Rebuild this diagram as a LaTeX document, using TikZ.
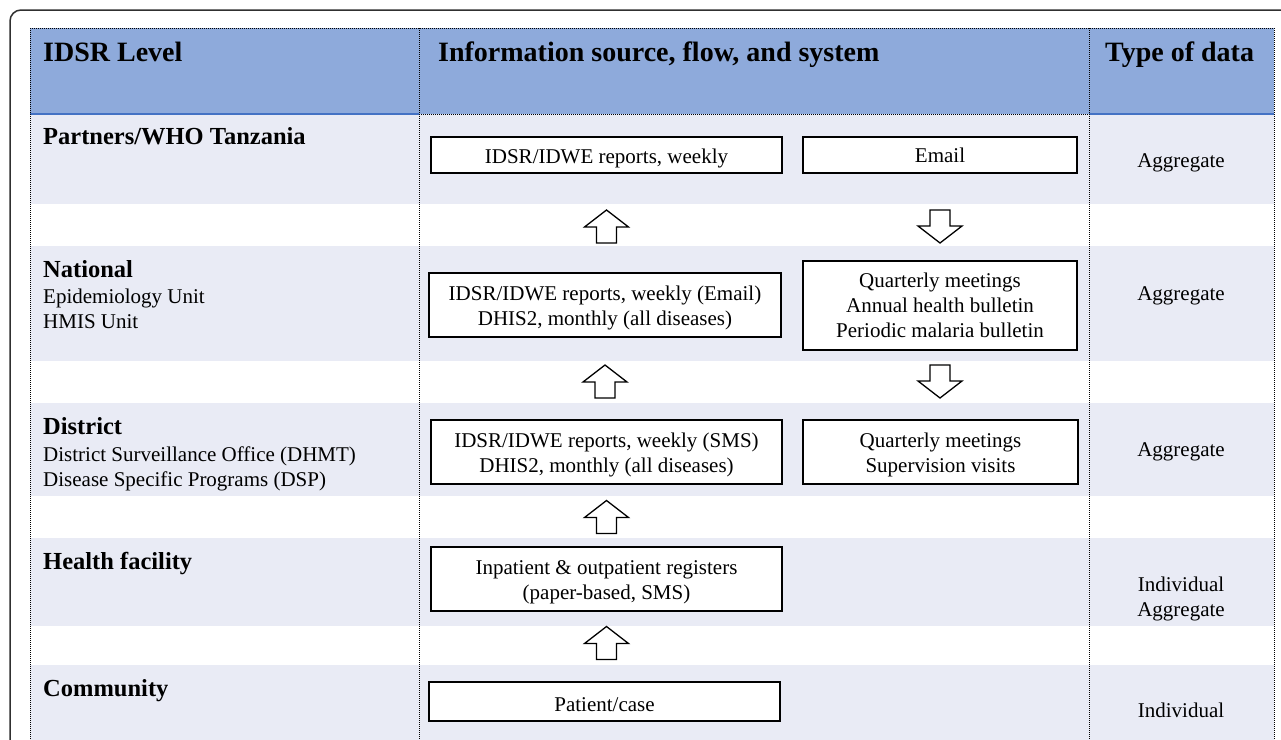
\documentclass[tikz,border=0pt]{standalone}
\usepackage{fontspec}
\setmainfont{Liberation Serif}
\definecolor{headblue}{HTML}{8EAADB}
\definecolor{rowband}{HTML}{E9EBF5}
\definecolor{ruleblue}{HTML}{4472C4}
\definecolor{framegray}{HTML}{303030}
% extra height on a box's first line, so that its text sits a little low
\newcommand{\firststrut}{\rule{0pt}{21pt}}
\tikzset{
  dotline/.style={line width=1pt, dash pattern=on 1pt off 1pt, black},
  infobox/.style={draw=black, line width=1.4pt, fill=white, inner sep=0pt,
    align=center, font=\fontsize{21}{25}\selectfont},
  headtext/.style={anchor=base west, inner sep=0pt, font=\fontsize{28}{32}\selectfont\bfseries},
  leveltitle/.style={anchor=base west, inner sep=0pt, font=\fontsize{24.5}{28}\selectfont\bfseries},
  levelsub/.style={anchor=north west, inner sep=0pt, align=left, font=\fontsize{21}{25}\selectfont},
  datatype/.style={inner sep=0pt, align=center, font=\fontsize{21}{25}\selectfont},
  blockarrow/.style={draw=black, line width=1.3pt, fill=white, line join=miter},
  uparrow/.pic={\draw[blockarrow] (0,-16.5) -- (22,0.5) -- (10,0.5) -- (10,16.5)
      -- (-10,16.5) -- (-10,0.5) -- (-22,0.5) -- cycle;},
  downarrow/.pic={\draw[blockarrow] (0,16.5) -- (22,-0.5) -- (10,-0.5) -- (10,-16.5)
      -- (-10,-16.5) -- (-10,-0.5) -- (-22,-0.5) -- cycle;}
}
\begin{document}
\begin{tikzpicture}[x=1pt,y=-1pt]
\useasboundingbox (0,0) rectangle (1281,739);
\clip (0,0) rectangle (1281,739);

% outer frame
\draw[framegray, line width=1.5pt] (10,760) -- (10,21) arc[start angle=180, end angle=270, radius=11] -- (1300,10);

% header band and row bands
\fill[headblue] (30,28) rectangle (1274,114);
\fill[rowband] (30,114) rectangle (1274,204);
\fill[rowband] (30,246) rectangle (1274,361);
\fill[rowband] (30,403) rectangle (1274,496);
\fill[rowband] (30,538) rectangle (1274,626);
\fill[rowband] (30,665) rectangle (1274,760);

% table rules
\draw[ruleblue, line width=1.2pt] (30,114) -- (419,114);
\draw[ruleblue, line width=1.2pt] (1089,114) -- (1274,114);
\draw[dotline] (419,114) -- (1089,114);
\draw[dotline] (30,28) -- (1274,28);
\draw[dotline] (30,28) -- (30,760);
\draw[dotline] (419,28) -- (419,760);
\draw[dotline] (1089,28) -- (1089,760);
\draw[dotline] (1274,28) -- (1274,760);

% column headings
\node[headtext] (h1) at (43,61) {IDSR Level};
\node[headtext] (h2) at (438,61) {Information source, flow, and system};
\node[headtext] (h3) at (1105,61) {Type of data};

% level names
\node[leveltitle] (l1) at (43,144) {Partners/WHO Tanzania};
\node[leveltitle] (l2) at (43,277) {National};
\node[levelsub] (l2s) at (43,289) {Epidemiology Unit\\HMIS Unit};
\node[leveltitle] (l3) at (43,434) {District};
\node[levelsub] (l3s) at (43,446.5) {District Surveillance Office (DHMT)\\Disease Specific Programs (DSP)};
\node[leveltitle] (l4) at (43,569) {Health facility};
\node[leveltitle] (l5) at (43,696) {Community};

% information boxes
\node[infobox, minimum width=351pt, minimum height=36pt] (p-rep) at (606.5,155) {\firststrut IDSR/IDWE reports, weekly};
\node[infobox, minimum width=274pt, minimum height=36pt] (p-mail) at (940,155) {Email};
\node[infobox, minimum width=352pt, minimum height=64pt] (n-rep) at (605,305) {\firststrut IDSR/IDWE reports, weekly (Email)\\DHIS2, monthly (all diseases)};
\node[infobox, minimum width=274pt, minimum height=89pt] (n-fb) at (940,305.5) {Quarterly meetings\\Annual health bulletin\\Periodic malaria bulletin};
\node[infobox, minimum width=351pt, minimum height=64pt] (d-rep) at (606.5,452) {\firststrut IDSR/IDWE reports, weekly (SMS)\\DHIS2, monthly (all diseases)};
\node[infobox, minimum width=275pt, minimum height=64pt] (d-fb) at (940.5,452) {\firststrut Quarterly meetings\\Supervision visits};
\node[infobox, minimum width=351pt, minimum height=64pt] (f-reg) at (606.5,579) {\firststrut Inpatient \& outpatient registers\\(paper-based, SMS)};
\node[infobox, minimum width=351pt, minimum height=39pt] (c-case) at (604.5,701.5) {\firststrut Patient/case};

% gaps between levels
\coordinate (g1) at (0,226.5);
\coordinate (g2) at (0,381.5);
\coordinate (g3) at (0,517);
\coordinate (g4) at (0,643);

% reporting flow (up) and feedback (down)
\pic at (p-rep |- g1) {uparrow};
\pic at (p-mail |- g1) {downarrow};
\pic at (n-rep |- g2) {uparrow};
\pic at (n-fb |- g2) {downarrow};
\pic at (d-rep |- g3) {uparrow};
\pic at (f-reg |- g4) {uparrow};

% type of data
\node[datatype] (t1) at (1181,163) {Aggregate};
\node[datatype] (t2) at (1181,296) {Aggregate};
\node[datatype] (t3) at (1181,452) {Aggregate};
\node[datatype] (t4) at (1181,598.5) {Individual\\Aggregate};
\node[datatype] (t5) at (1181,710) {Individual};
\end{tikzpicture}
\end{document}
